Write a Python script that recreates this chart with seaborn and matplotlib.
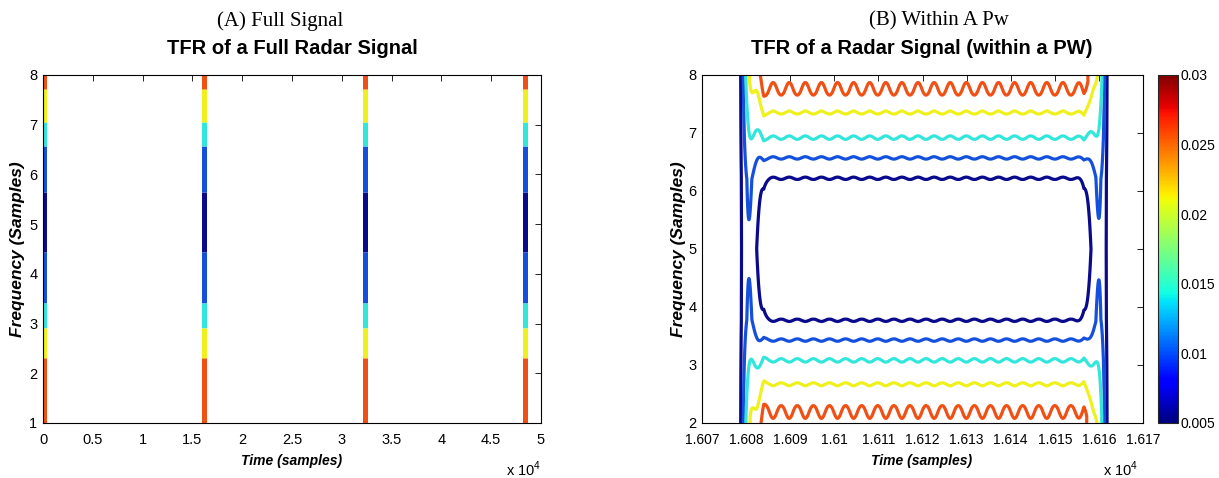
import numpy as np
import pandas as pd
import matplotlib
matplotlib.use("Agg")
import matplotlib.pyplot as plt
import seaborn as sns
from matplotlib.colors import Normalize
from matplotlib.cm import ScalarMappable

# -----------------------------
# DATA
# -----------------------------
# panel A: one coloured stripe per pulse, split into frequency bands
pulse_centres = [120, 16200, 32280, 48360]
band_edges = [1.0, 2.31, 2.92, 3.42, 4.43, 5.64, 6.58, 7.05, 7.72, 8.0]
band_levels = [0.025, 0.02, 0.015, 0.01, 0.005, 0.01, 0.015, 0.02, 0.025]

# panel B: contour levels and where each one sits inside the pulse
contour_levels = [0.005, 0.01, 0.015, 0.02, 0.025]
upper_freq = [6.22, 6.57, 6.92, 7.35, 7.75]
lower_freq = [3.77, 3.43, 3.08, 2.67, 2.20]
ripple_amp = [0.02, 0.02, 0.03, 0.022, 0.12]
centre_level = 0.002
top_level = 0.028
bottom_level = 0.027

ramp_left = [16078.6, 16084.0]
ramp_right = [16156.6, 16162.0]
burst_centres = [16080.5, 16160.1]
burst_width = 1.42
burst_level = 0.0088
ripple_period = 3.65
ripple_start = 16084.3

colorbar_ticks = [0.005, 0.01, 0.015, 0.02, 0.025, 0.03]

# line colours as they appear in the picture (jet-like)
level_colours = ["#0a0a8c", "#1450dc", "#32e6dc", "#f0f01e", "#f05014"]

# -----------------------------
# STYLE
# -----------------------------
sns.set_style("white")
plt.rcParams["font.family"] = ["Liberation Sans", "DejaVu Sans"]
plt.rcParams["mathtext.fontset"] = "custom"
plt.rcParams["mathtext.rm"] = "Liberation Sans"
plt.rcParams["text.color"] = "black"
plt.rcParams["xtick.color"] = "black"
plt.rcParams["ytick.color"] = "black"

norm = Normalize(vmin=0.005, vmax=0.03)
jet = plt.get_cmap("jet")
palette = dict(zip(contour_levels, level_colours))

fig = plt.figure(figsize=(12.19, 4.78), dpi=100)
ax_a = fig.add_axes([0.0353, 0.1151, 0.4085, 0.7280])
ax_b = fig.add_axes([0.5759, 0.1151, 0.3618, 0.7280])
cax = fig.add_axes([0.950, 0.1151, 0.0164, 0.7280])

# -----------------------------
# PANEL A: full signal
# -----------------------------
rows = []
for k, x in enumerate(pulse_centres):
    for j, lvl in enumerate(band_levels):
        for y in (band_edges[j], band_edges[j + 1]):
            rows.append({"time": x, "freq": y, "seg": f"{k}-{j}", "level": lvl})
seg_df = pd.DataFrame(rows)

sns.lineplot(data=seg_df, x="time", y="freq", units="seg", hue="level",
             palette=palette, estimator=None, sort=False, legend=False,
             linewidth=3.6, solid_capstyle="butt", ax=ax_a)
ax_a.set_xlim(0, 50000)
ax_a.set_ylim(1, 8)
ax_a.set_xticks(np.arange(0, 50001, 5000))
ax_a.set_xticklabels([f"{v / 1e4:g}" for v in np.arange(0, 50001, 5000)])
ax_a.set_yticks(range(1, 9))

# -----------------------------
# PANEL B: within one pulse width
# -----------------------------
t = np.linspace(16070, 16170, 2001)
f = np.linspace(2, 8, 1201)
T, F = np.meshgrid(t, f)

wave = np.cos(2 * np.pi * (T - ripple_start) / ripple_period)
up = F >= 5
amp = np.where(up, np.interp(F, upper_freq, ripple_amp),
               np.interp(F, lower_freq[::-1], ripple_amp[::-1]))
F_eff = np.where(up, F + amp * wave, F - amp * wave)
g_up = np.interp(F_eff, [5.0] + upper_freq + [8.0],
                 [centre_level] + contour_levels + [top_level])
g_lo = np.interp(F_eff, [2.0] + lower_freq[::-1] + [5.0],
                 [bottom_level] + contour_levels[::-1] + [centre_level])
g = np.where(up, g_up, g_lo)

ramp = (np.clip((T - ramp_left[0]) / (ramp_left[1] - ramp_left[0]), 0, 1)
        * np.clip((ramp_right[1] - T) / (ramp_right[1] - ramp_right[0]), 0, 1))
burst = sum(np.exp(-(T - c) ** 2 / (2 * burst_width ** 2)) for c in burst_centres)
Z = ramp * g + burst * burst_level

ax_b.contour(T, F, Z, levels=contour_levels, colors=level_colours, linewidths=2.3)
ax_b.set_xlim(16070, 16170)
ax_b.set_ylim(2, 8)
xt = np.arange(16070, 16171, 10)
ax_b.set_xticks(xt)
ax_b.set_xticklabels([f"{v / 1e4:g}" for v in xt])
ax_b.set_yticks(range(2, 9))

cb = fig.colorbar(ScalarMappable(norm=norm, cmap=jet), cax=cax)
cb.set_ticks(colorbar_ticks)
cb.set_ticklabels([f"{v:g}" for v in colorbar_ticks])
cb.outline.set_linewidth(0.8)
cax.tick_params(direction="in", length=4, width=0.6, labelsize=10,
                left=True, right=True, pad=2, colors="black")

for ax in (ax_a, ax_b):
    ax.set_xlabel("")
    ax.set_ylabel("")
    ax.tick_params(direction="in", top=True, right=True, length=4, width=0.6,
                   labelsize=10.5, pad=4, colors="black")
    ax.tick_params(axis="x", pad=7)
    for s in ax.spines.values():
        s.set_linewidth(0.8)
        s.set_color("black")
ax_b.tick_params(axis="x", labelsize=10)

# -----------------------------
# TEXT
# -----------------------------
sub_font = {"family": ["Liberation Serif", "DejaVu Serif"], "size": 15}
title_font = {"size": 14.5, "weight": "bold"}
label_font = {"size": 10, "weight": "bold", "style": "italic"}

fig.text(0.2297, 0.956, "(A) Full Signal", ha="center", va="center", **sub_font)
fig.text(0.7703, 0.956, "(B) Within A Pw", ha="center", va="center", **sub_font)
fig.text(0.2395, 0.899, "TFR of a Full Radar Signal", ha="center", va="center", **title_font)
fig.text(0.7564, 0.899, "TFR of a Radar Signal (within a PW)", ha="center", va="center", **title_font)

fig.text(0.2395, 0.036, "Time (samples)", ha="center", va="center", **label_font)
fig.text(0.7564, 0.036, "Time (samples)", ha="center", va="center", **label_font)
fig.text(0.014, 0.479, "Frequency (Samples)", ha="center", va="center", rotation=90,
         size=12.5, weight="bold", style="italic")
fig.text(0.557, 0.479, "Frequency (Samples)", ha="center", va="center", rotation=90,
         size=12.5, weight="bold", style="italic")

fig.text(0.4438, 0.019, r"x 10$^{4}$", ha="right", va="center", size=10.5)
fig.text(0.9336, 0.019, r"x 10$^{4}$", ha="right", va="center", size=10.5)

fig.savefig("out.png", dpi=100, facecolor="white")
